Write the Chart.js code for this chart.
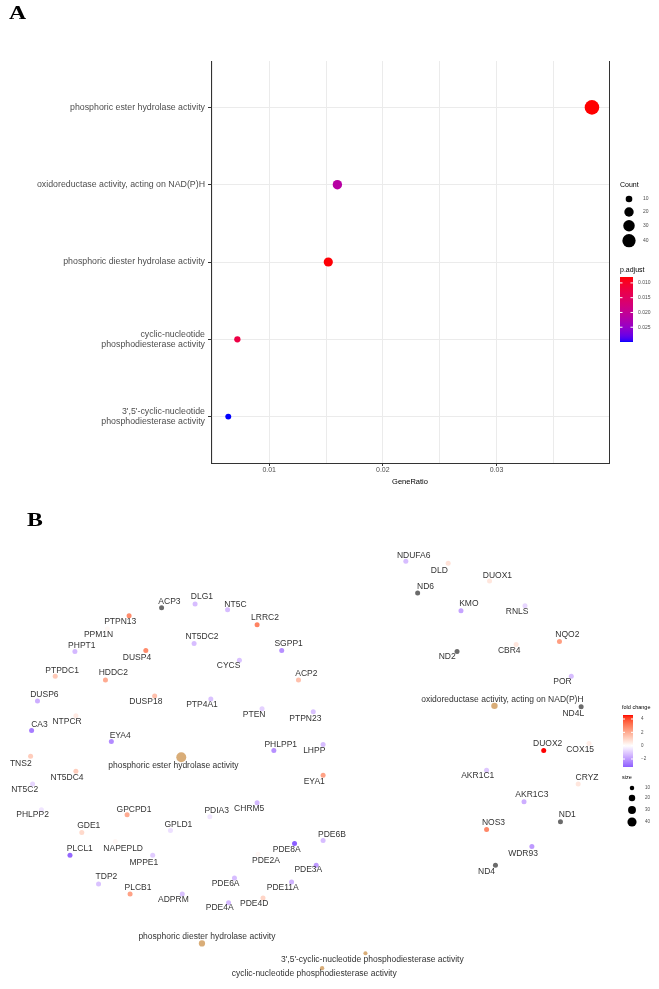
<!DOCTYPE html>
<html><head><meta charset="utf-8">
<script src="https://cdn.jsdelivr.net/npm/chart.js@4.4.1/dist/chart.umd.min.js"></script>
<style>
html,body{margin:0;padding:0;background:#fff;}
#wrap{position:relative;width:659px;height:989px;overflow:hidden;background:#fff;}
canvas{position:absolute;left:0;top:0;}
.tag{position:absolute;font-family:"Liberation Serif","DejaVu Serif",serif;font-weight:bold;font-size:19px;line-height:1;transform:scaleX(1.25);transform-origin:left top;color:#000;}
</style></head><body>
<div id="wrap">
<canvas id="ca" width="659" height="500"></canvas>
<canvas id="cb" width="659" height="989"></canvas>
<div class="tag" style="left:9px;top:3px">A</div>
<div class="tag" style="left:27px;top:510px">B</div>
</div>
<script>
// ---------- Panel A data ----------
const terms = ['phosphoric ester hydrolase activity','oxidoreductase activity, acting on NAD(P)H','phosphoric diester hydrolase activity','cyclic-nucleotide phosphodiesterase activity',"3',5'-cyclic-nucleotide phosphodiesterase activity"];
const termAxisLabels = ['phosphoric ester hydrolase activity','oxidoreductase activity, acting on NAD(P)H','phosphoric diester hydrolase activity',['cyclic-nucleotide','phosphodiesterase activity'],["3',5'-cyclic-nucleotide",'phosphodiesterase activity']];
const geneRatio = [0.0384, 0.0160, 0.0152, 0.0072, 0.0064];
const termCount = [48, 20, 19, 9, 8];
const pAdjust = [0.0080, 0.0215, 0.0082, 0.0125, 0.0300];
const xBreaks = [0.005,0.010,0.015,0.020,0.025,0.030,0.035];
const countBreaks = [10,20,30,40];
const pBreaks = [0.010,0.015,0.020,0.025];

// ---------- Panel B data (network layout) ----------
const geneNames = ['ACP3','DLG1','NT5C','LRRC2','PTPN13','PPM1N','NT5DC2','PHPT1','SGPP1','DUSP4','CYCS','PTPDC1','HDDC2','ACP2','DUSP6','DUSP18','PTP4A1','PTEN','PTPN23','CA3','NTPCR','EYA4','PHLPP1','LHPP','TNS2','NT5DC4','EYA1','NT5C2','GPCPD1','PDIA3','CHRM5','PHLPP2','GDE1','GPLD1','NAPEPLD','PLCL1','MPPE1','TDP2','PLCB1','ADPRM','PDE4A','PDE4D','PDE6A','PDE11A','PDE2A','PDE8A','PDE3A','PDE6B','NDUFA6','DLD','DUOX1','ND6','KMO','RNLS','NQO2','ND2','CBR4','POR','ND4L','DUOX2','COX15','AKR1C1','CRYZ','AKR1C3','ND1','NOS3','WDR93','ND4'];
const geneFoldChange = [null,-1.3,-1.3,2.9,2.7,0.15,-1.3,-1.4,-2.2,2.7,-1.2,1.3,2.0,1.5,-1.6,1.5,-1.2,-0.9,-1.2,-2.6,0.5,-2.3,-2.2,-1.3,1.2,1.2,2.2,-0.8,2.0,-0.5,-1.4,-0.5,0.9,-0.6,0.2,-3.0,-1.0,-1.2,2.2,-1.2,-1.4,1.0,-1.3,-1.5,0.2,-3.2,-2.0,-1.3,-1.3,0.7,0.6,null,-1.8,-0.8,2.3,null,0.6,-1.3,null,4.6,0.4,-1.1,0.6,-1.6,null,2.8,-2.0,null];
const geneLayoutX = [159,193,226,256,126,104,192,71,281,143,238,51,102,298,33,152,209,261,313,27,72,108,273,323,26,72,323,28,124,208,256,37,78,168,112,66,150,95,127,180,227,262,233,291,257,294,316,323,407,450,492,419,463,528,563,459,519,575,585,547,593,489,582,527,564,489,535,498];
const geneLayoutY = [609,605,611,626,617,630,645,653,652,652,662,678,682,682,703,698,701,711,714,733,718,744,753,747,759,774,778,787,818,820,806,813,836,834,845,859,859,888,898,898,907,902,882,886,858,847,869,844,562,564,582,594,612,607,643,653,646,678,709,753,746,773,787,805,825,833,850,869];
const geneLabelX = [167,200,234,264,117,95,200,78,288,134,227,58,110,306,40,143,200,253,305,35,63,117,280,314,16,63,314,20,131,215,248,28,85,176,120,76,141,103,135,171,218,253,224,282,265,286,308,332,415,441,500,427,471,520,571,449,512,566,577,551,584,480,591,535,571,496,526,489];
const geneLabelY = [603,598,606,619,623,636,638,647,645,659,667,672,674,675,697,704,707,717,721,727,724,738,747,753,766,781,785,793,813,814,812,818,829,828,852,852,866,881,892,904,912,908,888,892,864,853,873,838,556,571,576,588,605,613,636,658,652,684,716,746,752,779,781,798,818,826,857,875];
const catLayoutX = [179,497,200,322,366];
const catLayoutY = [760,708,948,973,958];
const catLabelX = [171,505,205,314,373];
const catLabelY = [768,702,941,979,964];
const fcBreaks = [4,2,0,-2];
const sizeBreaks = [10,20,30,40];

// ---------- colour helpers (Lab interpolation as in ggplot) ----------
function hex2rgb(h){h=h.replace('#','');return [0,2,4].map(i=>parseInt(h.substr(i,2),16));}
function rgb2lab(c){
  const lin=v=>{v/=255;return v<=0.04045?v/12.92:Math.pow((v+0.055)/1.055,2.4)};
  const R=lin(c[0]),G=lin(c[1]),B=lin(c[2]);
  const X=(0.4124*R+0.3576*G+0.1805*B)/0.95047,Y=0.2126*R+0.7152*G+0.0722*B,Z=(0.0193*R+0.1192*G+0.9505*B)/1.08883;
  const f=t=>t>0.008856?Math.cbrt(t):7.787*t+16/116;
  const fx=f(X),fy=f(Y),fz=f(Z);
  return [116*fy-16,500*(fx-fy),200*(fy-fz)];
}
function lab2rgb(l){
  const fy=(l[0]+16)/116,fx=fy+l[1]/500,fz=fy-l[2]/200;
  const fi=t=>{const t3=t*t*t;return t3>0.008856?t3:(t-16/116)/7.787};
  const X=fi(fx)*0.95047,Y=fi(fy),Z=fi(fz)*1.08883;
  const R=3.2406*X-1.5372*Y-0.4986*Z,G=-0.9689*X+1.8758*Y+0.0415*Z,B=0.0557*X-0.2040*Y+1.0570*Z;
  const g=c=>{c=c<=0.0031308?12.92*c:1.055*Math.pow(c,1/2.4)-0.055;return Math.round(Math.max(0,Math.min(1,c))*255)};
  return 'rgb('+g(R)+','+g(G)+','+g(B)+')';
}
function labMix(c1,c2,t){const a=rgb2lab(hex2rgb(c1)),b=rgb2lab(hex2rgb(c2));return lab2rgb(a.map((v,i)=>v+(b[i]-v)*t));}

const pMin = Math.min(...pAdjust), pMax = Math.max(...pAdjust);
const pColorT = t => labMix('#FF0000','#0000FF',t);
const pColor = p => pColorT((p-pMin)/(pMax-pMin));
const fcVals = geneFoldChange.filter(v=>v!==null);
const fcMin = Math.min(...fcVals), fcMax = Math.max(...fcVals);
const fcAbs = Math.max(Math.abs(fcMin), Math.abs(fcMax));
const fcColor = v => v===null ? '#6B6B6B' : (v>=0 ? labMix('#FFFFFF','#FF0000', v/fcAbs) : labMix('#FFFFFF','#0000FF', -v/fcAbs));
const rA = n => 1.05*Math.sqrt(n);
const rB = n => 0.72*Math.sqrt(n);
const CAT_COLOR = '#D9AD78';
const SANS = '"Liberation Sans", Arial, sans-serif';
const isMajor = v => Math.abs(v*100 - Math.round(v*100)) < 1e-6;

// ---------- Panel A ----------
const panelAExtras = {
  id:'panelAExtras',
  afterDraw(chart){
    const {ctx, chartArea:ca} = chart;
    ctx.save();
    ctx.strokeStyle='#333'; ctx.lineWidth=1;
    const xr=Math.round(ca.right)+0.5;
    ctx.beginPath(); ctx.moveTo(xr, ca.top); ctx.lineTo(xr, Math.round(ca.bottom)+1); ctx.stroke();
    ctx.fillStyle='#000'; ctx.font='7.5px '+SANS; ctx.textAlign='center'; ctx.textBaseline='middle';
    ctx.fillText('GeneRatio', (ca.left+ca.right)/2, ca.bottom+18.5);
    const lx = ca.right + 11;
    ctx.textAlign='left';
    ctx.font='7px '+SANS; ctx.fillStyle='#000';
    ctx.fillText('Count', lx, 185);
    const keyY = [199, 212, 225.7, 240.7];
    countBreaks.forEach((n,i)=>{
      ctx.beginPath(); ctx.arc(lx+9, keyY[i], rA(n), 0, 2*Math.PI); ctx.fillStyle='#000'; ctx.fill();
      ctx.fillStyle='#4D4D4D'; ctx.font='5px '+SANS; ctx.fillText(String(n), lx+23, keyY[i]);
    });
    ctx.fillStyle='#000'; ctx.font='7px '+SANS;
    ctx.fillText('p.adjust', lx, 270);
    const bx=lx, by=277, bw=13, bh=65;
    const grad = ctx.createLinearGradient(0,by,0,by+bh);
    for(let k=0;k<=40;k++) grad.addColorStop(k/40, pColorT(k/40));
    ctx.fillStyle=grad; ctx.fillRect(bx,by,bw,bh);
    pBreaks.forEach(v=>{
      const y = by + (v-pMin)/(pMax-pMin)*bh;
      ctx.strokeStyle='#fff'; ctx.lineWidth=1;
      ctx.beginPath(); ctx.moveTo(bx,y); ctx.lineTo(bx+2.5,y); ctx.moveTo(bx+bw-2.5,y); ctx.lineTo(bx+bw,y); ctx.stroke();
      ctx.fillStyle='#4D4D4D'; ctx.font='5px '+SANS; ctx.fillText(v.toFixed(3), bx+bw+5, y);
    });
    ctx.restore();
  }
};

new Chart(document.getElementById('ca'), {
  type:'scatter',
  data:{datasets:[{
    data: geneRatio.map((g,i)=>({x:g, y:i})),
    pointRadius: termCount.map(rA),
    pointHoverRadius: termCount.map(rA),
    backgroundColor: pAdjust.map(pColor),
    borderWidth:0, clip:false
  }]},
  options:{
    responsive:false, animation:false, events:[],
    layout:{padding:{left:0,right:50,top:61,bottom:0}},
    plugins:{legend:{display:false}, tooltip:{enabled:false}},
    scales:{
      x:{type:'linear', min:0.00488, max:0.0399,
        afterBuildTicks:s=>{s.ticks = xBreaks.map(v=>({value:v}));},
        afterFit:s=>{s.height=37;},
        ticks:{callback:v=>isMajor(v)?v.toFixed(2):'', font:{size:7, family:SANS}, color:'#4D4D4D', padding:0, maxRotation:0, autoSkip:false},
        grid:{color:'#EBEBEB', lineWidth:1, tickLength:3, tickColor:c=>isMajor(c.tick.value)?'#333':'rgba(0,0,0,0)'},
        border:{color:'#333', width:1}
      },
      y:{type:'linear', min:-0.6, max:4.6, reverse:true,
        afterBuildTicks:s=>{s.ticks = terms.map((t,i)=>({value:i}));},
        afterFit:s=>{s.width=211;},
        ticks:{callback:v=>termAxisLabels[v], font:{size:8.8, family:SANS, lineHeight:1.1}, color:'#4D4D4D', padding:3, autoSkip:false},
        grid:{color:'#EBEBEB', lineWidth:1, tickLength:3, tickColor:'#333'},
        border:{color:'#333', width:1}
      }
    }
  },
  plugins:[panelAExtras]
});

// ---------- Panel B ----------
const panelBExtras = {
  id:'panelBExtras',
  afterDatasetsDraw(chart){
    const {ctx, scales:{x, y}} = chart;
    ctx.save();
    ctx.fillStyle='#333'; ctx.font='8.5px '+SANS; ctx.textAlign='center'; ctx.textBaseline='middle';
    geneNames.forEach((n,i)=>ctx.fillText(n, x.getPixelForValue(geneLabelX[i]), y.getPixelForValue(geneLabelY[i])));
    terms.forEach((n,i)=>ctx.fillText(n, x.getPixelForValue(catLabelX[i]), y.getPixelForValue(catLabelY[i])));
    ctx.restore();
  },
  afterDraw(chart){
    const {ctx} = chart;
    ctx.save();
    ctx.textAlign='left'; ctx.textBaseline='middle';
    ctx.fillStyle='#000'; ctx.font='5.5px '+SANS;
    ctx.fillText('fold change', 622, 707);
    const bx=623, by=715, bw=10, bh=52;
    const grad = ctx.createLinearGradient(0,by,0,by+bh);
    for(let k=0;k<=40;k++){ const v = fcMax - (fcMax-fcMin)*k/40; grad.addColorStop(k/40, fcColor(v)); }
    ctx.fillStyle=grad; ctx.fillRect(bx,by,bw,bh);
    fcBreaks.forEach(v=>{
      const yy = by + (fcMax-v)/(fcMax-fcMin)*bh;
      ctx.strokeStyle='#fff'; ctx.lineWidth=1;
      ctx.beginPath(); ctx.moveTo(bx,yy); ctx.lineTo(bx+2,yy); ctx.moveTo(bx+bw-2,yy); ctx.lineTo(bx+bw,yy); ctx.stroke();
      ctx.fillStyle='#4D4D4D'; ctx.font='4.5px '+SANS; ctx.fillText(v<0?'\u2212'+Math.abs(v):String(v), bx+bw+8, yy);
    });
    ctx.fillStyle='#000'; ctx.font='5.5px '+SANS;
    ctx.fillText('size', 622, 777);
    const keyY=[788,798,810,822];
    sizeBreaks.forEach((n,i)=>{
      ctx.beginPath(); ctx.arc(632, keyY[i], rB(n), 0, 2*Math.PI); ctx.fillStyle='#000'; ctx.fill();
      ctx.fillStyle='#4D4D4D'; ctx.font='4.5px '+SANS; ctx.fillText(String(n), 645, keyY[i]);
    });
    ctx.restore();
  }
};

new Chart(document.getElementById('cb'), {
  type:'scatter',
  data:{datasets:[
    {data: geneNames.map((g,i)=>({x:geneLayoutX[i], y:geneLayoutY[i]})), pointRadius:2.5, pointHoverRadius:2.5,
     backgroundColor: geneFoldChange.map(fcColor), borderWidth:0, clip:false},
    {data: terms.map((t,i)=>({x:catLayoutX[i], y:catLayoutY[i]})), pointRadius: termCount.map(rB), pointHoverRadius: termCount.map(rB),
     backgroundColor: CAT_COLOR, borderWidth:0, clip:false}
  ]},
  options:{
    responsive:false, animation:false, events:[],
    layout:{padding:0},
    plugins:{legend:{display:false}, tooltip:{enabled:false}},
    scales:{
      x:{type:'linear', display:false, min:0, max:659},
      y:{type:'linear', display:false, min:0, max:989, reverse:true}
    }
  },
  plugins:[panelBExtras]
});
</script>
</body></html>
